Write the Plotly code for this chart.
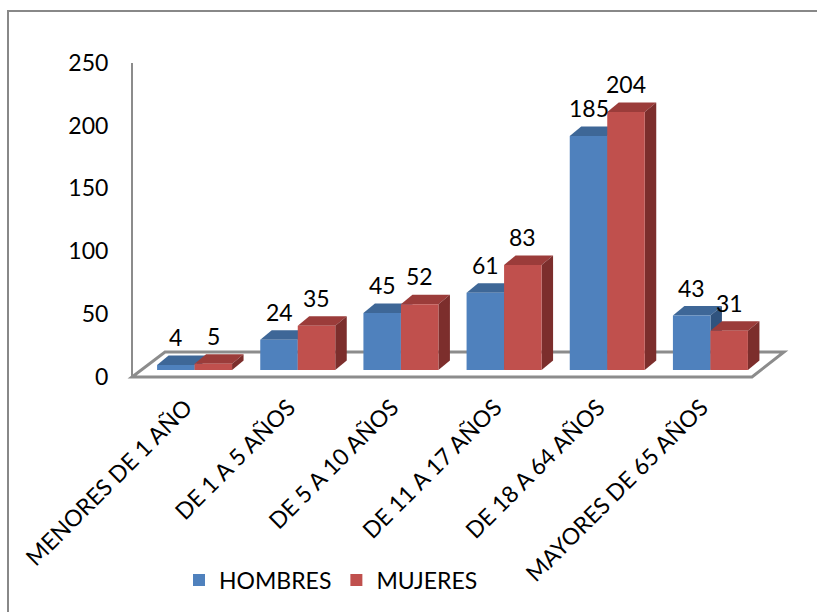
import plotly.graph_objects as go

categories = ["MENORES DE 1 AÑO", "DE 1 A 5 AÑOS", "DE 5 A 10 AÑOS",
              "DE 11 A 17 AÑOS", "DE 18 A 64 AÑOS", "MAYORES DE 65 AÑOS"]
hombres = [4, 24, 45, 61, 185, 43]
mujeres = [5, 35, 52, 83, 204, 31]
y_ticks = [0, 50, 100, 150, 200, 250]
series_names = ["HOMBRES", "MUJERES"]

FONT = "Lato"
FS = 23
W, H = 817, 612
ML, MR, MT, MB = 120, 17, 40, 212
PW = W - ML - MR
PH = H - MT - MB


def px_x(px):
    return (px - ML) / PW


def px_y(py):
    return (H - MB - py) / PH


colors = {
    "HOMBRES": ("#4F81BD", "#3E6797", "#30537E"),
    "MUJERES": ("#C0504D", "#9B3C3A", "#7C2E2C"),
}

bargap = 0.273
w = (1 - bargap) / 2
# 3D depth offsets (pixels) converted to data units
x0_px, x1_px = 143, 762
cat_px = (x1_px - x0_px) / 6
y0_px, ppu = 370, 1.265
dx = 11.5 / cat_px
dy = 9.5 / ppu
label_shift = 9 / cat_px

idx = list(range(len(categories)))

fig = go.Figure()
for name, vals in zip(series_names, [hombres, mujeres]):
    fig.add_trace(go.Bar(
        x=idx, y=vals, name=name,
        marker=dict(color=colors[name][0], line=dict(width=0)),
        hoverinfo="x+y",
    ))
# empty trace so that the value-axis (tick labels) is drawn
fig.add_trace(go.Scatter(x=[None], y=[None], yaxis="y2", showlegend=False,
                         hoverinfo="skip"))

shapes = []
# floor
fl = [(132, 377), (752, 377), (784, 352), (165, 352)]
path = "M " + " L ".join(f"{px_x(a)},{px_y(b)}" for a, b in fl) + " Z"
shapes.append(dict(type="path", xref="paper", yref="paper", path=path,
                   line=dict(color="#8C8C8C", width=3), fillcolor="rgba(0,0,0,0)",
                   layer="below"))

for si, (name, vals) in enumerate(zip(series_names, [hombres, mujeres])):
    for i, v in zip(idx, vals):
        xl = i - w if si == 0 else i
        xr = xl + w
        top = f"M {xl},{v} L {xr},{v} L {xr+dx},{v+dy} L {xl+dx},{v+dy} Z"
        side = f"M {xr},0 L {xr},{v} L {xr+dx},{v+dy} L {xr+dx},{dy} Z"
        shapes.append(dict(type="path", xref="x", yref="y", path=top,
                           fillcolor=colors[name][1], line=dict(width=0), layer="below"))
        shapes.append(dict(type="path", xref="x", yref="y", path=side,
                           fillcolor=colors[name][2], line=dict(width=0), layer="below"))

# outer border
shapes.append(dict(type="rect", xref="paper", yref="paper",
                   x0=px_x(8), x1=px_x(830), y0=px_y(630), y1=px_y(11),
                   line=dict(color="#888888", width=2), fillcolor="rgba(0,0,0,0)",
                   layer="above"))

annotations = []
for si, vals in enumerate([hombres, mujeres]):
    for i, v in zip(idx, vals):
        xc = i - w / 2 if si == 0 else i + w / 2
        annotations.append(dict(x=xc, y=v, xref="x", yref="y", text=str(v),
                                showarrow=False, yshift=28, yanchor="middle",
                                font=dict(family=FONT, size=FS, color="#000000")))

fig.update_layout(
    width=W, height=H,
    margin=dict(l=ML, r=MR, t=MT, b=MB, autoexpand=False),
    paper_bgcolor="white", plot_bgcolor="rgba(0,0,0,0)",
    barmode="group", bargap=bargap, bargroupgap=0,
    font=dict(family=FONT, size=FS, color="#000000"),
    xaxis=dict(range=[-0.5, 5.5], domain=[px_x(x0_px), px_x(x1_px)],
               tickvals=[i - label_shift for i in idx], ticktext=categories,
               tickangle=-45, automargin=False,
               showgrid=False, zeroline=False, showline=False,
               ticks="outside", ticklen=14, tickcolor="rgba(0,0,0,0)",
               tickfont=dict(family=FONT, size=FS)),
    yaxis=dict(range=[0, 250], domain=[px_y(y0_px), px_y(y0_px - 250 * ppu)],
               visible=False, showgrid=False, zeroline=False, automargin=False),
    yaxis2=dict(range=[0, 250], domain=[px_y(376.5), px_y(63)],
                anchor="free", position=px_x(132), automargin=False,
                tickvals=y_ticks, showgrid=False, zeroline=False,
                showline=True, linecolor="#8C8C8C", linewidth=2,
                ticks="outside", ticklen=18, tickcolor="rgba(0,0,0,0)",
                tickfont=dict(family=FONT, size=FS)),
    legend=dict(orientation="h", x=px_x(331), y=px_y(580), xanchor="center",
                yanchor="middle", bgcolor="rgba(0,0,0,0)",
                font=dict(family=FONT, size=FS)),
    shapes=shapes, annotations=annotations,
    showlegend=True,
)

fig.write_html("out.html")
